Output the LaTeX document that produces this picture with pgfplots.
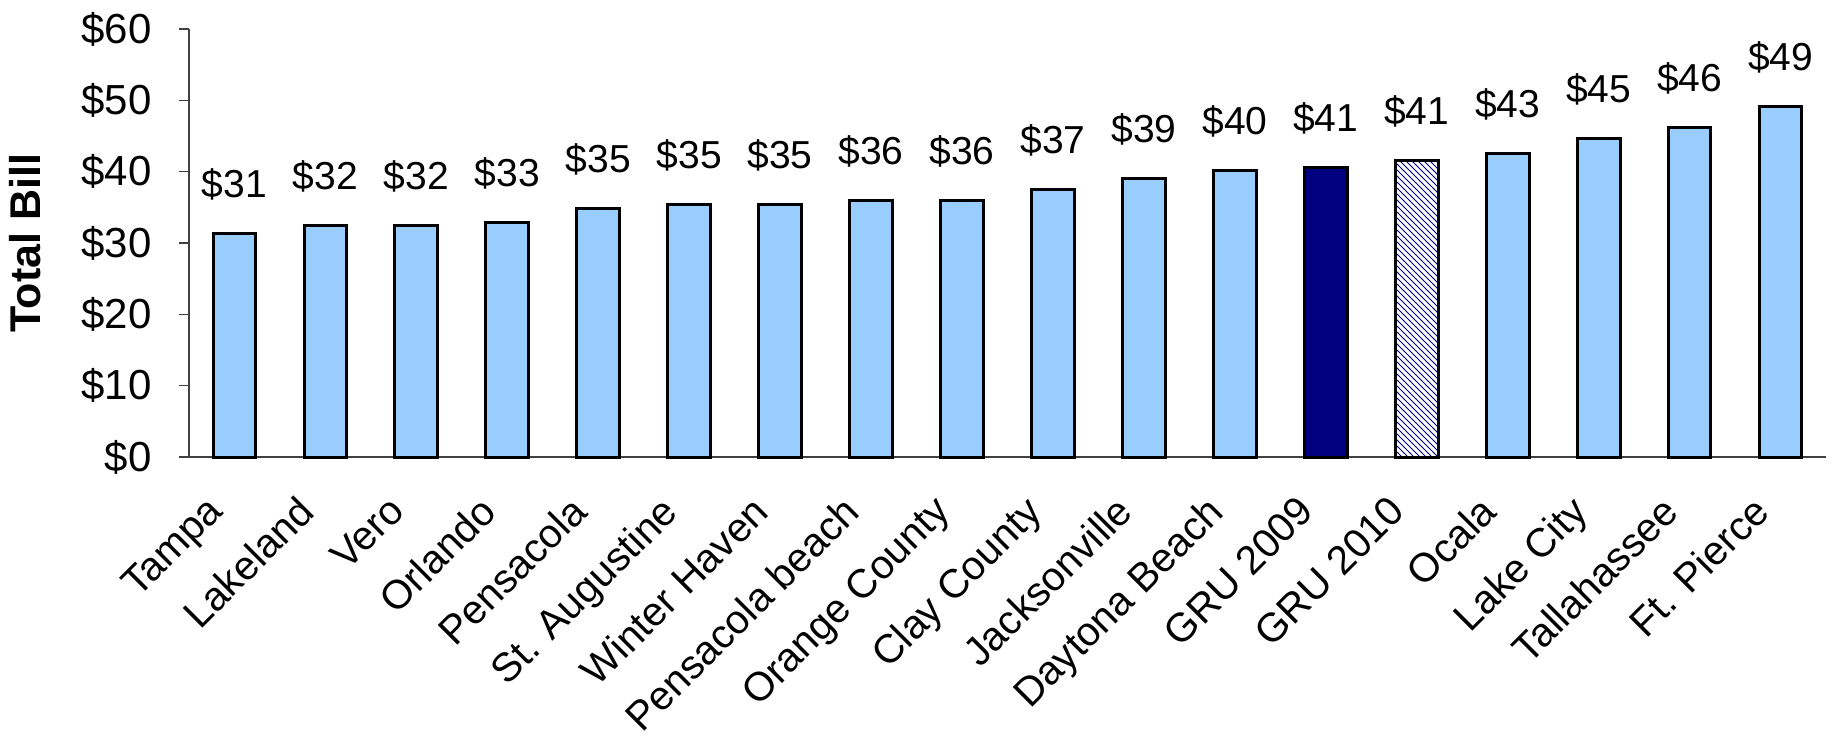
\documentclass[border=0pt]{standalone}
\usepackage{pgfplots}
\pgfplotsset{compat=1.18}
\usepackage{pgfplotstable}
\usetikzlibrary{patterns}
\usepackage{fontspec}
\setmainfont{Liberation Sans}
\definecolor{lightbar}{HTML}{99CCFF}
\definecolor{navybar}{HTML}{000080}
\pgfplotstableread{
x y lab
0 31.4 31
1 32.4 32
2 32.4 32
3 32.9 33
4 34.9 35
5 35.4 35
6 35.4 35
7 36.0 36
8 36.0 36
9 37.5 37
10 39.0 39
11 40.1 40
14 42.6 43
15 44.6 45
16 46.2 46
17 49.2 49
}\lightdata
\pgfplotstableread{
x y lab
12 40.6 41
}\gruA
\pgfplotstableread{
x y lab
13 41.5 41
}\gruB
\begin{document}
\begin{tikzpicture}
\path[use as bounding box] (-94.5pt,-139pt) rectangle (823pt,228.5pt);
\begin{axis}[
  scale only axis,
  width=818.5pt, height=214pt,
  at={(0,0)}, anchor=south west,
  xmin=-0.5, xmax=17.5, ymin=0, ymax=60,
  axis x line*=bottom, axis y line*=left,
  axis line style={black!75, line width=0.6pt},
  every tick/.style={black!75, line width=0.6pt},
  tick align=outside,
  ytick={0,10,...,60},
  yticklabels={\$0,\$10,\$20,\$30,\$40,\$50,\$60},
  major tick length=5pt,
  xtick={0,...,17},
  xticklabels={Tampa,Lakeland,Vero,Orlando,Pensacola,St. Augustine,Winter Haven,Pensacola beach,Orange County,Clay County,Jacksonville,Daytona Beach,GRU 2009,GRU 2010,Ocala,Lake City,Tallahassee,Ft. Pierce},
  x tick style={draw=none},
  minor xtick={-0.5,0.5,...,17.5},
  minor tick length=5pt,
  ticklabel style={font=\fontsize{21}{24}\selectfont, black},
  xticklabel style={font=\fontsize{20.2}{24}\selectfont, xshift=-15pt, yshift=-13pt, rotate=45, anchor=north east, inner sep=0pt},
  yticklabel style={anchor=east, inner sep=0pt, xshift=-13.5pt},
  ylabel={\textbf{Total Bill}},
  ylabel style={at={(axis description cs:-0.1,0.5)}, anchor=center, font=\fontsize{21.5}{24}\selectfont},
  bar width=0.47,
  ybar,
  bar shift=0pt,
  nodes near coords={\$\pgfplotspointmeta},
  point meta=explicit symbolic,
  every node near coord/.append style={font=\fontsize{19.5}{22}\selectfont, black, anchor=base, yshift=18pt},
  clip=false,
]
\addplot[fill=lightbar, draw=black, line width=1.5pt] table[x=x,y=y,meta=lab]{\lightdata};
\addplot[fill=navybar, draw=black, line width=1.5pt] table[x=x,y=y,meta=lab]{\gruA};
\addplot[pattern=north west lines, pattern color=navybar, draw=black, line width=1.5pt] table[x=x,y=y,meta=lab]{\gruB};
\end{axis}
\end{tikzpicture}
\end{document}
